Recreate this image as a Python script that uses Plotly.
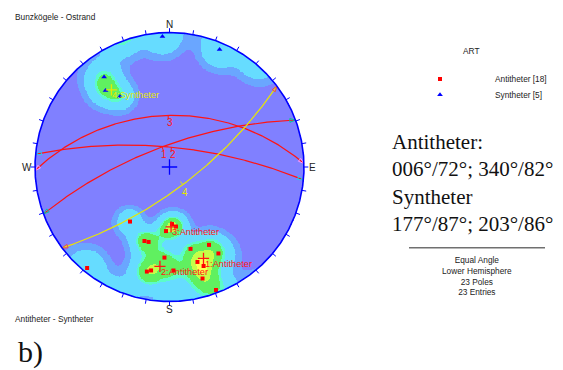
import numpy as np
import plotly.graph_objects as go

# ---------------------------------------------------------------------------
# Pole data (trend / plunge in degrees, lower hemisphere)
# ---------------------------------------------------------------------------
anti_trend = [177.5, 173.8, 183.1, 198.7, 195.6, 183.2, 192.2, 190.1, 177.8,
              215.9, 219.2, 165.6, 153.1, 150.5, 163.6, 161.0, 163.5, 159.3]
anti_plunge = [44.0, 42.0, 39.0, 29.7, 29.9, 22.0, 13.0, 14.0, 14.8,
               36.8, 1.8, 25.7, 24.0, 17.1, 17.3, 14.2, 8.3, 1.3]
syn_trend = [356.9, 23.1, 324.0, 320.1, 324.9]
syn_plunge = [1.6, 3.0, 10.8, 16.9, 24.7]

# Cluster mean poles and their great circles
cluster_ids = ["1", "2", "3", "4"]
cluster_names = ["1:Antitheter", "2:Antitheter", "3:Antitheter", "4:Syntheter"]
cluster_trend = [159.6, 185.5, 178.5, 323.0]
cluster_plunge = [18.1, 16.8, 42.0, 18.7]

# Summary text (dip direction / dip)
summary_lines = ["Antitheter:", "006°/72°; 340°/82°", "Syntheter", "177°/87°; 203°/86°"]

# Density contour levels and fill colours
density_levels = [0.09, 0.30, 1.05, 1.3, 2.05, 2.48]
level_colors = ["#8080ff", "#6aa6ff", "#66dcff", "#5cfbc8", "#60f060", "#c4ff48", "#ffff50"]

RED = "#ff1414"
YEL = "#e8e800"
cluster_colors = [RED, RED, RED, YEL]

W, H = 563, 370
CX, CY, RAD = 169.5, 167.0, 134.5   # net centre and radius in pixels


def project(trend, plunge):
    """Equal-angle (stereographic) lower-hemisphere projection onto unit circle."""
    t = np.radians(np.asarray(trend, float))
    p = np.radians(np.asarray(plunge, float))
    r = np.tan((np.pi / 2 - p) / 2)
    return r * np.sin(t), r * np.cos(t)


def to_vec(trend, plunge):
    t = np.radians(np.asarray(trend, float))
    p = np.radians(np.asarray(plunge, float))
    return np.stack([np.cos(p) * np.cos(t), np.cos(p) * np.sin(t), np.sin(p)], -1)


def great_circle(trend, plunge, n=241):
    dd = np.radians(trend + 180.0)
    dip = np.radians(90.0 - plunge)
    strike = dd - np.pi / 2
    u = np.array([np.cos(strike), np.sin(strike), 0.0])
    v = np.array([np.cos(dip) * np.cos(dd), np.cos(dip) * np.sin(dd), np.sin(dip)])
    a = np.linspace(0, np.pi, n)
    vec = np.outer(np.cos(a), u) + np.outer(np.sin(a), v)
    pl = np.degrees(np.arcsin(np.clip(vec[:, 2], -1, 1)))
    tr = np.degrees(np.arctan2(vec[:, 1], vec[:, 0]))
    return project(tr, pl)


def paper(px, py):
    return px / W, 1 - py / H


fig = go.Figure()

# --- density of all poles (axial Fisher kernel) ---------------------------
g = np.linspace(-1, 1, 341)
GX, GY = np.meshgrid(g, g)
RR = np.hypot(GX, GY)
inside = RR <= 1.0
grid_pl = np.degrees(np.pi / 2 - 2 * np.arctan(RR))
grid_tr = np.degrees(np.arctan2(GX, GY))
grid_vec = to_vec(grid_tr, grid_pl)
pole_vec = to_vec(anti_trend + syn_trend, anti_plunge + syn_plunge)
kappa = 108.0
cosang = np.abs(grid_vec @ pole_vec.T)
dens = np.exp(kappa * (cosang - 1)).sum(-1)
lvl = np.digitize(dens, density_levels).astype(float)
lvl[~inside] = np.nan

nl = len(level_colors)
cscale = []
for i, c in enumerate(level_colors):
    cscale.append([i / nl, c])
    cscale.append([(i + 1) / nl, c])

fig.add_trace(go.Heatmap(x=g, y=g, z=lvl, colorscale=cscale, zmin=-0.5, zmax=nl - 0.5,
                         showscale=False, hoverinfo="skip"))

# --- great circles of cluster poles --------------------------------------
for cid, tr, pl, col in zip(cluster_ids, cluster_trend, cluster_plunge, cluster_colors):
    gx, gy = great_circle(tr, pl)
    fig.add_trace(go.Scatter(x=gx, y=gy, mode="lines", line=dict(color=col, width=1.2),
                             hoverinfo="skip"))
    # open arrowheads where the arc meets the primitive
    ends_x = [gx[0], gx[-1]]
    ends_y = [gy[0], gy[-1]]
    ang = [np.degrees(np.arctan2(gx[0] - gx[3], gy[0] - gy[3])),
           np.degrees(np.arctan2(gx[-1] - gx[-4], gy[-1] - gy[-4]))]
    fig.add_trace(go.Scatter(x=ends_x, y=ends_y, mode="markers",
                             marker=dict(symbol="arrow-open", size=6, angle=ang,
                                         line=dict(color=col, width=1)),
                             hoverinfo="skip"))
    m = len(gx) // 2
    mx, my = gx[m], gy[m]
    # small tick at the dip-direction midpoint, pointing to the net centre
    rr = np.hypot(mx, my)
    fig.add_trace(go.Scatter(x=[mx, mx - 0.03 * mx / rr], y=[my, my - 0.03 * my / rr],
                             mode="lines", line=dict(color=col, width=1), hoverinfo="skip"))
    fig.add_annotation(x=mx, y=my, text=cid, showarrow=False, xshift=2, yshift=-7.5,
                       font=dict(family="Liberation Sans, Arial", size=10, color=col))

# --- poles ------------------------------------------------------------------
ax_, ay_ = project(anti_trend, anti_plunge)
fig.add_trace(go.Scatter(x=ax_, y=ay_, mode="markers",
                         marker=dict(symbol="square", size=4, color="#ff0000"),
                         hoverinfo="skip"))
sx_, sy_ = project(syn_trend, syn_plunge)
fig.add_trace(go.Scatter(x=sx_, y=sy_, mode="markers",
                         marker=dict(symbol="triangle-up", size=5, color="#0000ff"),
                         hoverinfo="skip"))

# --- cluster centres --------------------------------------------------------
cx_, cy_ = project(cluster_trend, cluster_plunge)
fig.add_trace(go.Scatter(x=cx_, y=cy_, mode="markers",
                         marker=dict(symbol="cross-thin", size=8,
                                     line=dict(color=cluster_colors, width=1.3)),
                         hoverinfo="skip"))
for name, x0, y0, col in zip(cluster_names, cx_, cy_, cluster_colors):
    fig.add_annotation(x=x0, y=y0, text=name, showarrow=False, xanchor="left",
                       xshift=-1, yshift=-5.5,
                       font=dict(family="Liberation Sans, Arial", size=9.2, color=col))

# --- primitive circle, ticks and centre ------------------------------------
th = np.radians(np.linspace(0, 360, 721))
fig.add_trace(go.Scatter(x=np.sin(th), y=np.cos(th), mode="lines",
                         line=dict(color="#0000ff", width=1.6), hoverinfo="skip"))
tx, ty = [], []
for a in np.radians(np.arange(0, 360, 10)):
    tx += [np.sin(a), 1.032 * np.sin(a), None]
    ty += [np.cos(a), 1.032 * np.cos(a), None]
fig.add_trace(go.Scatter(x=tx, y=ty, mode="lines", line=dict(color="#0000ff", width=1),
                         hoverinfo="skip"))
fig.add_trace(go.Scatter(x=[0], y=[0], mode="markers",
                         marker=dict(symbol="cross-thin", size=11,
                                     line=dict(color="#0000ff", width=1.3)),
                         hoverinfo="skip"))

lab_font = dict(family="Liberation Sans, Arial", size=10, color="#222222")
for t, x0, y0 in [("N", 0, 1.058), ("S", 0, -1.063), ("W", -1.06, 0), ("E", 1.06, 0)]:
    fig.add_annotation(x=x0, y=y0, text=t, showarrow=False, font=lab_font)

# --- legend (drawn on an overlay pixel axis) -----------------------------
fig.add_trace(go.Scatter(x=[440], y=[79], xaxis="x2", yaxis="y2", mode="markers",
                         marker=dict(symbol="square", size=4, color="#ff0000"),
                         hoverinfo="skip"))
fig.add_trace(go.Scatter(x=[440], y=[94.7], xaxis="x2", yaxis="y2", mode="markers",
                         marker=dict(symbol="triangle-up", size=5, color="#0000ff"),
                         hoverinfo="skip"))

small = dict(family="Liberation Sans, Arial", size=8.3, color="#222222")


def text_at(px, py, text, font, xanchor="left", align="left"):
    xp, yp = paper(px, py)
    fig.add_annotation(x=xp, y=yp, xref="paper", yref="paper", text=text, showarrow=False,
                       xanchor=xanchor, yanchor="middle", align=align, font=font)


text_at(470.5, 51, "ART", small, xanchor="center")
text_at(493, 79, f"Antitheter [{len(anti_trend)}]", small)
text_at(493, 94.7, f"Syntheter [{len(syn_trend)}]", small)

text_at(13, 16.7, "Bunzkögele - Ostrand", small)
text_at(13, 319, "Antitheter - Syntheter", small)
text_at(16, 352, "b)", dict(family="Liberation Serif, Times New Roman", size=30, color="#111111"))

text_at(390, 183.5, "<br>".join(summary_lines),
        dict(family="Liberation Serif, Times New Roman", size=21, color="#111111"))

n_poles = len(anti_trend) + len(syn_trend)
text_at(476.5, 275.5,
        "<br>".join(["Equal Angle", "Lower Hemisphere", f"{n_poles} Poles", f"{n_poles} Entries"]),
        small, xanchor="center", align="center")

x0p, y0p = paper(409, 247.7)
x1p, _ = paper(545, 247.7)
fig.add_shape(type="line", xref="paper", yref="paper", x0=x0p, x1=x1p, y0=y0p, y1=y0p,
              line=dict(color="#707070", width=1.5))

hide = dict(visible=False, showgrid=False, zeroline=False, fixedrange=True)
fig.update_layout(
    width=W, height=H, margin=dict(l=0, r=0, t=0, b=0),
    paper_bgcolor="white", plot_bgcolor="white", showlegend=False,
    xaxis=dict(range=[-CX / RAD, (W - CX) / RAD], domain=[0, 1], **hide),
    yaxis=dict(range=[-(H - CY) / RAD, CY / RAD], domain=[0, 1], **hide),
    xaxis2=dict(range=[0, W], overlaying="x", domain=[0, 1], **hide),
    yaxis2=dict(range=[H, 0], overlaying="y", domain=[0, 1], **hide),
)

fig.write_html("out.html")
